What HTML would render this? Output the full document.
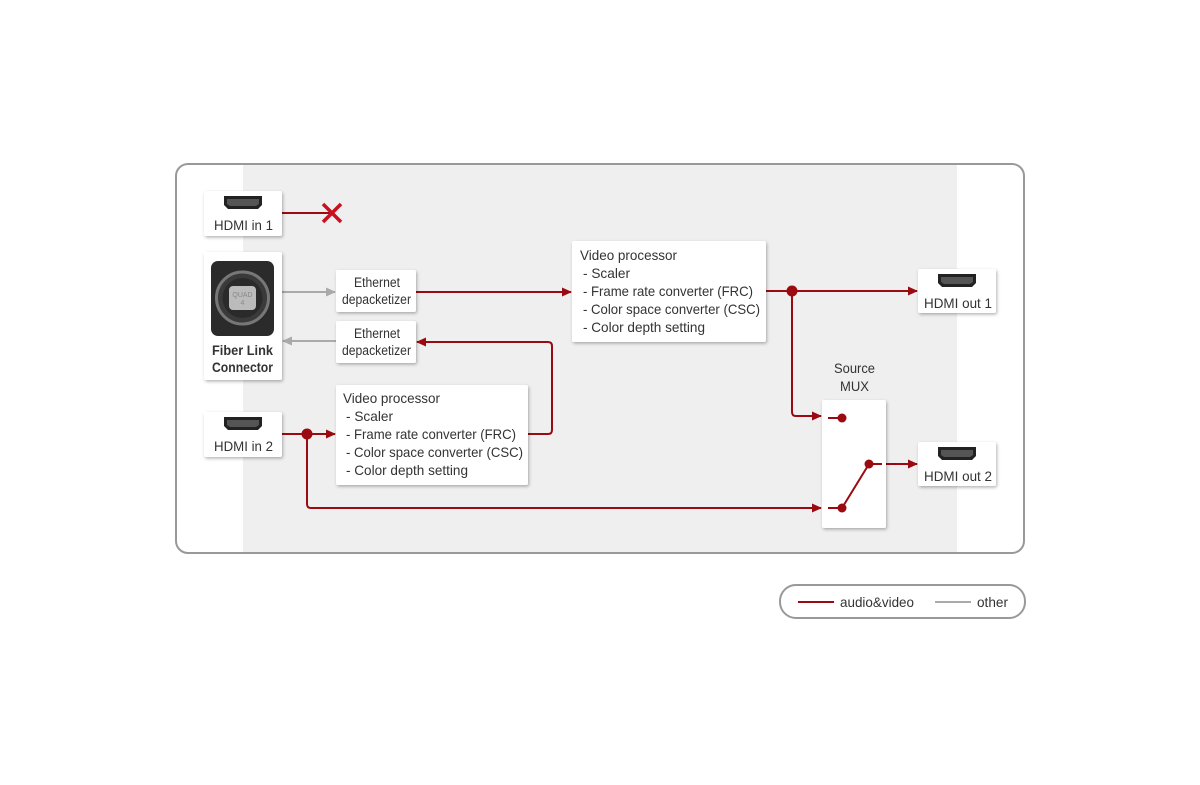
<!DOCTYPE html>
<html><head><meta charset="utf-8"><style>
body{margin:0;background:#fff;}
svg text{font-family:"Liberation Sans",sans-serif;fill:#333;}
</style></head><body>
<svg width="1200" height="780" viewBox="0 0 1200 780" xmlns="http://www.w3.org/2000/svg">
<defs>
<filter id="sh" x="-20%" y="-20%" width="140%" height="140%"><feDropShadow dx="1" dy="1.5" stdDeviation="1.5" flood-color="#000" flood-opacity="0.3"/></filter>
<marker id="ar" markerWidth="10" markerHeight="10" refX="9" refY="5" orient="auto" markerUnits="userSpaceOnUse"><path d="M0,0.5 L10,5 L0,9.5 z" fill="#9b0a10"/></marker>
<marker id="ag" markerWidth="10" markerHeight="10" refX="9" refY="5" orient="auto" markerUnits="userSpaceOnUse"><path d="M0,0.5 L10,5 L0,9.5 z" fill="#aaa"/></marker>
<g id="hdmi"><path d="M0,0 H38 V9 L34,13 H4 L0,9 Z" fill="#222"/><path d="M3,3 H35 V8 L32,10 H6 L3,8 Z" fill="#555"/></g>
</defs>
<rect x="176" y="164" width="848" height="389" rx="12" fill="#fff" stroke="#999" stroke-width="2"/>
<rect x="243" y="165" width="714" height="387" fill="#efefef"/>

<g fill="none" stroke-width="2">
<line x1="282" y1="213" x2="330" y2="213" stroke="#9b0a10"/>
<line x1="282" y1="292" x2="335" y2="292" stroke="#aaa" marker-end="url(#ag)"/>
<line x1="336" y1="341" x2="283" y2="341" stroke="#aaa" marker-end="url(#ag)"/>
<line x1="416" y1="292" x2="571" y2="292" stroke="#9b0a10" marker-end="url(#ar)"/>
<path d="M528,434 H548 Q552,434 552,430 V346 Q552,342 548,342 H417" stroke="#9b0a10" marker-end="url(#ar)"/>
<line x1="766" y1="291" x2="917" y2="291" stroke="#9b0a10" marker-end="url(#ar)"/>
<path d="M792,291 V412 Q792,416 796,416 H821" stroke="#9b0a10" marker-end="url(#ar)"/>
<line x1="282" y1="434" x2="335" y2="434" stroke="#9b0a10" marker-end="url(#ar)"/>
<path d="M307,434 V504 Q307,508 311,508 H821" stroke="#9b0a10" marker-end="url(#ar)"/>
<line x1="886" y1="464" x2="917" y2="464" stroke="#9b0a10" marker-end="url(#ar)"/>
</g>
<g stroke="#c8101e" stroke-width="3.5"><line x1="323" y1="204" x2="341" y2="222"/><line x1="341" y1="204" x2="323" y2="222"/></g>

<g fill="#fff" filter="url(#sh)">
<rect x="204" y="191" width="78" height="45" rx="2"/>
<rect x="204" y="252" width="78" height="128" rx="2"/>
<rect x="336" y="270" width="80" height="42" rx="2"/>
<rect x="336" y="321" width="80" height="42" rx="2"/>
<rect x="336" y="385" width="192" height="100" rx="2"/>
<rect x="572" y="241" width="194" height="101" rx="2"/>
<rect x="918" y="269" width="78" height="44" rx="2"/>
<rect x="204" y="412" width="78" height="45" rx="2"/>
<rect x="918" y="442" width="78" height="44" rx="2"/>
<rect x="822" y="400" width="64" height="128" rx="2"/>
</g>
<use href="#hdmi" x="224" y="196"/>
<use href="#hdmi" x="224" y="417"/>
<use href="#hdmi" x="938" y="274"/>
<use href="#hdmi" x="938" y="447"/>
<g font-size="14" lengthAdjust="spacingAndGlyphs">
<text x="214" y="230" textLength="59" lengthAdjust="spacingAndGlyphs">HDMI in 1</text>
<text x="214" y="451" textLength="59" lengthAdjust="spacingAndGlyphs">HDMI in 2</text>
<text x="924" y="308" textLength="68" lengthAdjust="spacingAndGlyphs">HDMI out 1</text>
<text x="924" y="481" textLength="68" lengthAdjust="spacingAndGlyphs">HDMI out 2</text>
</g>

<rect x="211" y="261" width="63" height="75" rx="7" fill="#2b2b2b"/>
<circle cx="242.5" cy="298" r="26" fill="#3a3a3a" stroke="#777" stroke-width="3"/>
<circle cx="242.5" cy="298" r="20" fill="#2a2a2a"/>
<rect x="229" y="286" width="27" height="24" rx="4" fill="#bbb"/>
<text x="242.5" y="297" font-size="7" text-anchor="middle" style="fill:#888">QUAD</text>
<text x="242.5" y="305" font-size="7" text-anchor="middle" style="fill:#888">4</text>
<text x="212" y="355" font-size="14" font-weight="bold" textLength="61" lengthAdjust="spacingAndGlyphs">Fiber Link</text>
<text x="212" y="372" font-size="14" font-weight="bold" textLength="61" lengthAdjust="spacingAndGlyphs">Connector</text>

<g font-size="13.5">
<text x="354" y="287" textLength="46" lengthAdjust="spacingAndGlyphs">Ethernet</text>
<text x="342" y="304" textLength="69" lengthAdjust="spacingAndGlyphs">depacketizer</text>
<text x="354" y="338" textLength="46" lengthAdjust="spacingAndGlyphs">Ethernet</text>
<text x="342" y="355" textLength="69" lengthAdjust="spacingAndGlyphs">depacketizer</text>
</g>
<g font-size="14">
<text x="343" y="403" textLength="97" lengthAdjust="spacingAndGlyphs">Video processor</text>
<text x="346" y="421" textLength="47" lengthAdjust="spacingAndGlyphs">- Scaler</text>
<text x="346" y="439" textLength="170" lengthAdjust="spacingAndGlyphs">- Frame rate converter (FRC)</text>
<text x="346" y="457" textLength="177" lengthAdjust="spacingAndGlyphs">- Color space converter (CSC)</text>
<text x="346" y="475" textLength="122" lengthAdjust="spacingAndGlyphs">- Color depth setting</text>
<text x="580" y="260" textLength="97" lengthAdjust="spacingAndGlyphs">Video processor</text>
<text x="583" y="278" textLength="47" lengthAdjust="spacingAndGlyphs">- Scaler</text>
<text x="583" y="296" textLength="170" lengthAdjust="spacingAndGlyphs">- Frame rate converter (FRC)</text>
<text x="583" y="314" textLength="177" lengthAdjust="spacingAndGlyphs">- Color space converter (CSC)</text>
<text x="583" y="332" textLength="122" lengthAdjust="spacingAndGlyphs">- Color depth setting</text>
</g>
<text x="834" y="373" font-size="14" textLength="41" lengthAdjust="spacingAndGlyphs">Source</text>
<text x="840" y="391" font-size="14" textLength="29" lengthAdjust="spacingAndGlyphs">MUX</text>

<g stroke="#9b0a10" stroke-width="2" fill="none">
<line x1="828" y1="418" x2="842" y2="418"/>
<line x1="828" y1="508" x2="842" y2="508"/>
<line x1="842" y1="508" x2="869" y2="464"/>
<line x1="869" y1="464" x2="882" y2="464"/>
</g>
<g fill="#9b0a10">
<circle cx="842" cy="418" r="4.5"/><circle cx="842" cy="508" r="4.5"/><circle cx="869" cy="464" r="4.5"/>
<circle cx="792" cy="291" r="5.5"/><circle cx="307" cy="434" r="5.5"/>
</g>

<rect x="780" y="585" width="245" height="33" rx="16" fill="#fff" stroke="#999" stroke-width="2"/>
<line x1="798" y1="602" x2="834" y2="602" stroke="#9b0a10" stroke-width="2"/>
<text x="840" y="607" font-size="14" textLength="74" lengthAdjust="spacingAndGlyphs">audio&amp;video</text>
<line x1="935" y1="602" x2="971" y2="602" stroke="#aaa" stroke-width="2"/>
<text x="977" y="607" font-size="14" textLength="31" lengthAdjust="spacingAndGlyphs">other</text>
</svg>
</body></html>
